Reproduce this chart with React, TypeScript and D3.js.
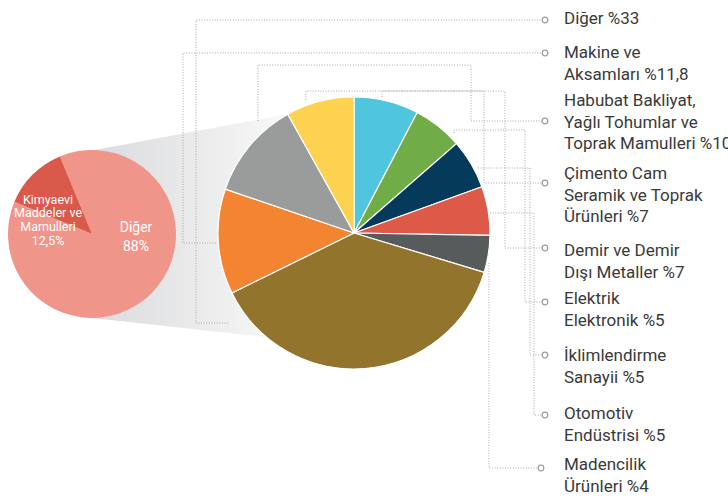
import React from "react";
import * as d3 from "d3";

// büyük pasta dilimleri (saat 12'den saat yönünde)
const bigNames = [
  "Çimento Cam Seramik",
  "Demir ve Demir Dışı Metaller",
  "Elektrik Elektronik",
  "İklimlendirme Sanayii",
  "Madencilik Ürünleri",
  "Diğer",
  "Kimyaevi Maddeler ve Mamulleri",
  "Makine ve Aksamları",
  "Habubat Bakliyat",
];
const bigValues = [7.7, 5.9, 5.9, 5.8, 4.4, 38.1, 12.5, 11.7, 8.1];
const bigColors = [
  "#4fc6dd", "#70ac47", "#053a5a", "#dc5a47", "#575b5c",
  "#93742c", "#f38431", "#9a9c9c", "#fdd250",
];

// küçük pasta
const smallNames = ["Diğer", "Kimyaevi Maddeler ve Mamulleri"];
const smallValues = [87.5, 12.5];
const smallLabels = ["88%", "12,5%"];
const smallColors = ["#ef958a", "#d9594a"];

// sağdaki etiketler
const labelLines = [
  ["Diğer"],
  ["Makine ve", "Aksamları"],
  ["Habubat Bakliyat,", "Yağlı Tohumlar ve", "Toprak Mamulleri"],
  ["Çimento Cam", "Seramik ve Toprak", "Ürünleri"],
  ["Demir ve Demir", "Dışı Metaller"],
  ["Elektrik", "Elektronik"],
  ["İklimlendirme", "Sanayii"],
  ["Otomotiv", "Endüstrisi"],
  ["Madencilik", "Ürünleri"],
];
const labelValues = [33, 11.8, 10, 7, 7, 5, 5, 5, 4];

// layout
const W = 728;
const H = 496;
const big = { cx: 354, cy: 233, r: 136 };
const small = { cx: 92, cy: 234, r: 84 };
const labelX = 564;
const lineH = 21.5;
const labelY = [24, 58, 106, 179, 256, 304, 361, 419, 470];
// leader routes, ending at the small circle
const routes: [number, number][][] = [
  [[228, 323], [196, 323], [196, 20], [542, 20]],
  [[216, 243], [183, 243], [183, 53], [542, 53]],
  [[258, 121], [258, 65], [471, 65], [471, 121], [542, 121]],
  [[306, 100], [306, 91], [484, 91], [484, 183], [542, 183]],
  [[382, 97], [382, 91], [505, 91], [505, 248], [542, 248]],
  [[454, 133], [454, 130], [525, 130], [525, 302], [542, 302]],
  [[478, 168], [530, 168], [530, 355], [542, 355]],
  [[490, 213], [534, 213], [534, 415], [542, 415]],
  [[489, 263], [489, 468], [538, 468]],
];

const fmt = (v: number) => String(v).replace(".", ",");

function onCircle(c: { cx: number; cy: number; r: number }, a: number): [number, number] {
  return [c.cx + c.r * Math.sin(a), c.cy - c.r * Math.cos(a)];
}

export default function App() {
  const bigArcs = d3.pie<number>().sort(null).value((d) => d)(bigValues);
  const bigArc = d3.arc<d3.PieArcDatum<number>>().innerRadius(0).outerRadius(big.r);

  const sStart = (-22.5 * Math.PI) / 180;
  const smallArcs = d3
    .pie<number>()
    .sort(null)
    .value((d) => d)
    .startAngle(sStart)
    .endAngle(sStart + 2 * Math.PI)(smallValues);
  const smallArc = d3.arc<d3.PieArcDatum<number>>().innerRadius(0).outerRadius(small.r);

  // funnel between the two pies
  const p1 = onCircle(small, smallArcs[1].endAngle);
  const p2 = onCircle(big, bigArcs[7].endAngle);
  const p3 = onCircle(big, (220 * Math.PI) / 180);
  const p4 = onCircle(small, Math.PI);
  const funnel = d3.line()([p1, p2, [big.cx, big.cy], p3, p4, [small.cx, small.cy]]) + "Z";

  const line = d3.line();
  const font = "Roboto, 'Liberation Sans', sans-serif";

  return (
    <svg width={W} height={H} style={{ position: "absolute", left: 0, top: 0 }} fontFamily={font}>
      <defs>
        <linearGradient id="fade" gradientUnits="userSpaceOnUse" x1={60} y1={0} x2={300} y2={0}>
          <stop offset="0" stopColor="#d5d6d8" />
          <stop offset="1" stopColor="#fafafa" />
        </linearGradient>
      </defs>
      <rect width={W} height={H} fill="#fff" />
      <path d={funnel} fill="url(#fade)" />

      {/* leader lines */}
      <g fill="none" stroke="#a8a8a8" strokeWidth={1} strokeDasharray="1 1.6">
        {routes.map((r, i) => (
          <path key={i} d={line(r) || ""} />
        ))}
      </g>
      {routes.map((r, i) => {
        const end = r[r.length - 1];
        return <circle key={i} cx={end[0] + 3} cy={end[1]} r={2.8} fill="#fff" stroke="#9d9d9d" strokeWidth={1.2} />;
      })}

      {/* small pie */}
      <g transform={`translate(${small.cx},${small.cy})`}>
        {smallArcs.map((a, i) => (
          <path key={smallNames[i]} d={smallArc(a) || ""} fill={smallColors[i]} />
        ))}
        <g fill="#fff" fontSize={12.5} textAnchor="middle">
          <text x={-44} y={-30}>Kimyaevi</text>
          <text x={-44} y={-17}>Maddeler ve</text>
          <text x={-44} y={-3.5}>Mamulleri</text>
          <text x={-44} y={10.5}>{smallLabels[1]}</text>
          <text x={44} y={-2} fontSize={14}>{smallNames[0]}</text>
          <text x={44} y={17} fontSize={14}>{smallLabels[0]}</text>
        </g>
      </g>

      {/* big pie */}
      <g transform={`translate(${big.cx},${big.cy})`}>
        {bigArcs.map((a, i) => (
          <path key={bigNames[i]} d={bigArc(a) || ""} fill={bigColors[i]} stroke="#fff" strokeWidth={1.2} strokeLinejoin="round" />
        ))}
      </g>

      {/* labels */}
      <g fill="#3a3a3a" fontSize={17}>
        {labelLines.map((lines, i) =>
          lines.map((t, j) => (
            <text key={`${i}-${j}`} x={labelX} y={labelY[i] + j * lineH}>
              {j === lines.length - 1 ? `${t} %${fmt(labelValues[i])}` : t}
            </text>
          ))
        )}
      </g>
    </svg>
  );
}
